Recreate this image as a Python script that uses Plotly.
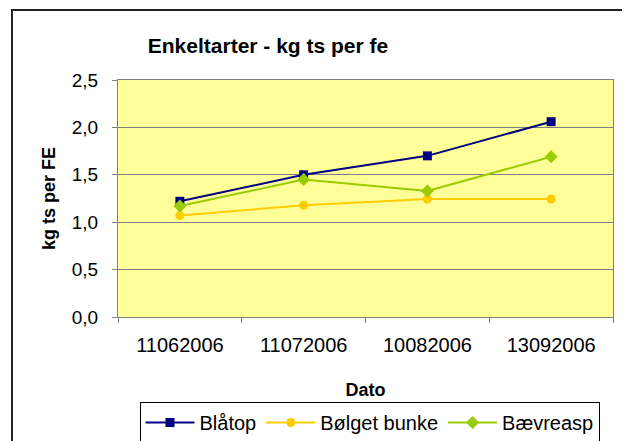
import plotly.graph_objects as go

dates = ["11062006", "11072006", "10082006", "13092006"]
blaatop = [1.22, 1.50, 1.70, 2.06]
bolget_bunke = [1.07, 1.18, 1.245, 1.245]
baevreasp = [1.17, 1.45, 1.33, 1.69]

W, H = 630, 441
OFF = 8  # page body margin offset
L, R, T, B = 118 - OFF, 613 - OFF, 80 - OFF, 317 - OFF

fig = go.Figure()
fig.add_trace(go.Scatter(x=dates, y=blaatop, name="Blåtop", mode="lines+markers",
                         line=dict(color="#000080", width=2),
                         marker=dict(symbol="square", size=9, color="#000080")))
fig.add_trace(go.Scatter(x=dates, y=bolget_bunke, name="Bølget bunke", mode="lines+markers",
                         line=dict(color="#FFCC00", width=2),
                         marker=dict(symbol="circle", size=9, color="#FFCC00")))
fig.add_trace(go.Scatter(x=dates, y=baevreasp, name="Bævreasp", mode="lines+markers",
                         line=dict(color="#99CC00", width=2),
                         marker=dict(symbol="diamond", size=10, color="#99CC00")))

def px(x):
    return (x - OFF - L) / (R - L)

def py(y):
    return (B - (y - OFF)) / (B - T)

fig.update_layout(
    width=W, height=H,
    margin=dict(l=L, r=W - R, t=T, b=H - B, autoexpand=False),
    paper_bgcolor="white",
    plot_bgcolor="#FFFF99",
    separators=", ",
    font=dict(family="Liberation Sans, Arial, sans-serif", size=19, color="black"),
    title=dict(text="<b>Enkeltarter - kg ts per fe</b>", font=dict(size=21),
               xref="paper", x=px(268), xanchor="center",
               yref="container", y=1 - (46 - OFF) / H, yanchor="middle"),
    xaxis=dict(type="category", range=[-0.5, 3.5], showgrid=False, automargin=False,
               tickson="boundaries", ticks="outside", ticklen=5, tickcolor="#808080",
               showline=True, linecolor="#808080", linewidth=1, mirror=True,
               ticklabelstandoff=10,
               title=dict(text="<b>Dato</b>", font=dict(size=18), standoff=28),
               tickfont=dict(size=20)),
    yaxis=dict(range=[0, 2.5], dtick=0.5, tickformat=".1f", automargin=False,
               showgrid=True, gridcolor="#808080", gridwidth=1,
               ticks="outside", ticklen=5, tickcolor="#808080",
               showline=True, linecolor="#808080", linewidth=1, mirror=True,
               zeroline=False, ticklabelstandoff=10,
               title=dict(text="<b>kg ts per FE</b>", font=dict(size=18), standoff=11),
               tickfont=dict(size=19)),
    legend=dict(orientation="h", xref="container", x=(369.5 - OFF) / W, xanchor="center",
                yref="container", y=1 - (402 - OFF) / H, yanchor="top",
                bordercolor="black", borderwidth=1, bgcolor="white",
                font=dict(size=20), itemwidth=49, tracegroupgap=0),
    showlegend=True,
)

fig.add_shape(type="rect", xref="paper", yref="paper",
              x0=px(12), x1=px(650), y0=py(460), y1=py(10),
              line=dict(color="#222222", width=2), fillcolor="rgba(0,0,0,0)",
              layer="below")

fig.write_html("out.html")
